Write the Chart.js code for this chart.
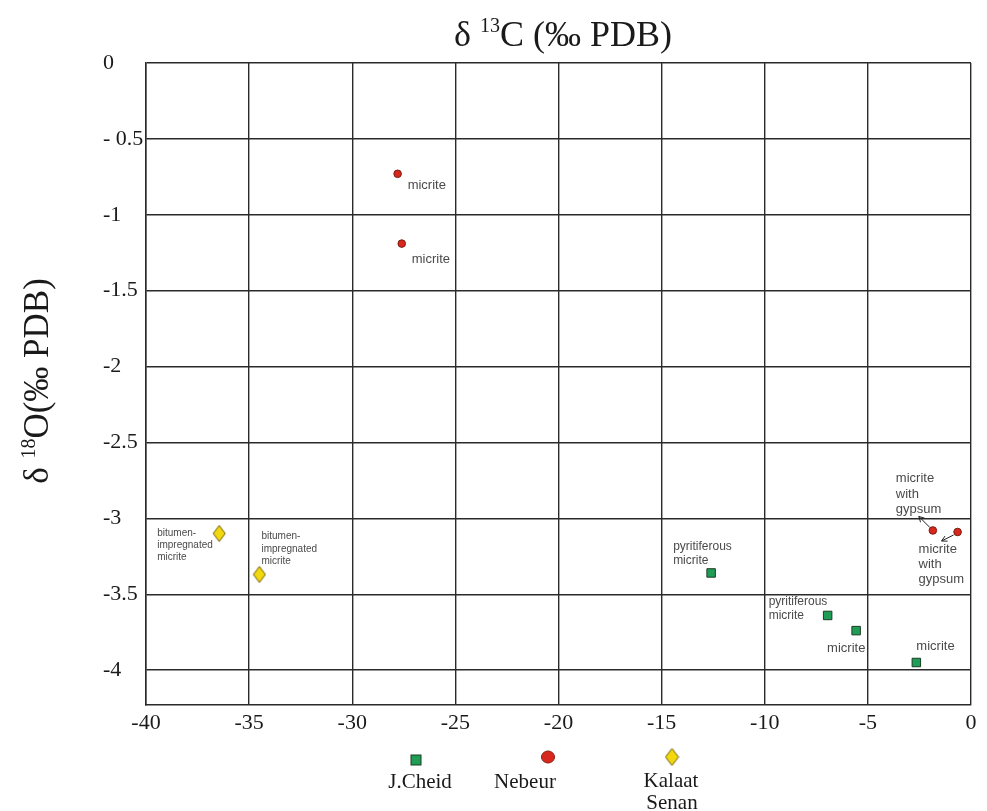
<!DOCTYPE html>
<html><head><meta charset="utf-8">
<script src="https://cdn.jsdelivr.net/npm/chart.js@4.4.1/dist/chart.umd.min.js"></script>
<style>html,body{margin:0;padding:0;background:#fff}</style>
</head><body>
<canvas id="c" width="987" height="811" style="width:987px;height:811px;display:block"></canvas>
<script>
// ---- data ----
const xTicks = [-40, -35, -30, -25, -20, -15, -10, -5, 0];
const xTickLabels = ['-40', '-35', '-30', '-25', '-20', '-15', '-10', '-5', '0'];
const yTicks = [0, -0.5, -1, -1.5, -2, -2.5, -3, -3.5, -4];
const yTickLabels = ['0', '- 0.5', '-1', '-1.5', '-2', '-2.5', '-3', '-3.5', '-4'];
const seriesNames = ['J.Cheid', 'Nebeur', 'Kalaat Senan'];

const jcheidX = [-12.6, -6.95, -5.57, -2.65];
const jcheidY = [-3.36, -3.64, -3.74, -3.95];
const jcheidNotes = ['pyritiferous\nmicrite', 'pyritiferous\nmicrite', 'micrite', 'micrite'];

const nebeurX = [-27.8, -27.6, -1.85, -0.65];
const nebeurY = [-0.73, -1.19, -3.08, -3.09];
const nebeurNotes = ['micrite', 'micrite', 'micrite\nwith\ngypsum', 'micrite\nwith\ngypsum'];

const kalaatX = [-36.45, -34.5];
const kalaatY = [-3.1, -3.37];
const kalaatNotes = ['bitumen-\nimpregnated\nmicrite', 'bitumen-\nimpregnated\nmicrite'];

const xTitle = ['δ ', '13', 'C (‰ PDB)'];
const yTitle = ['δ ', '18', 'O(‰ PDB)'];

// ---- styles ----
const COL_G = '#1f9d55', COL_R = '#d8281d', COL_Y = '#f2d90f';
const SERIF = '"Liberation Serif", "Times New Roman", serif';
const SANS = '"Liberation Sans", Arial, sans-serif';
const GRID = '#2a2a2a';

function diamondCanvas(w, h) {
  const cv = document.createElement('canvas');
  cv.width = w + 2; cv.height = h + 2;
  const g = cv.getContext('2d');
  g.beginPath();
  g.moveTo(cv.width / 2, 1); g.lineTo(cv.width - 1, cv.height / 2);
  g.lineTo(cv.width / 2, cv.height - 1); g.lineTo(1, cv.height / 2); g.closePath();
  g.fillStyle = COL_Y; g.fill();
  g.strokeStyle = '#6b5a00'; g.lineWidth = 1; g.stroke();
  return cv;
}
const diamond = diamondCanvas(12, 16);

const pts = (xs, ys) => xs.map((x, i) => ({ x: x, y: ys[i] }));

// annotation layout (pixel offsets from each marker)
const noteStyle = [
  [ {dx:-38, dy:-26, lh:14, fs:12}, {dx:-59, dy:-14, lh:14, fs:12}, {dx:-29, dy:18, lh:14, fs:13}, {dx:0, dy:-16, lh:14, fs:13} ],
  [ {dx:10, dy:12, lh:15, fs:13}, {dx:10, dy:16, lh:15, fs:13},
    {dx:-37, dy:-52, lh:15.5, fs:13, arrow:[-3,-3,-14,-14]},
    {dx:-39, dy:17, lh:15, fs:13, arrow:[-4,3,-16,9]} ],
  [ {dx:-62, dy:0, lh:12, fs:10}, {dx:2, dy:-38, lh:12.5, fs:10} ]
];
const notes = [jcheidNotes, nebeurNotes, kalaatNotes];

function drawSup(ctx, parts, big, small, rise) {
  ctx.font = big + 'px ' + SERIF;
  const w0 = ctx.measureText(parts[0]).width;
  const w2 = ctx.measureText(parts[2]).width;
  ctx.font = small + 'px ' + SERIF;
  const w1 = ctx.measureText(parts[1]).width;
  const total = w0 + w1 + w2;
  let x = -total / 2;
  ctx.textAlign = 'left'; ctx.textBaseline = 'alphabetic';
  ctx.font = big + 'px ' + SERIF; ctx.fillText(parts[0], x, 0); x += w0;
  ctx.font = small + 'px ' + SERIF; ctx.fillText(parts[1], x, -rise); x += w1;
  ctx.font = big + 'px ' + SERIF; ctx.fillText(parts[2], x, 0);
}

const decor = {
  id: 'decor',
  afterDatasetsDraw(chart) {
    const ctx = chart.ctx;
    ctx.save();
    // annotations
    chart.data.datasets.forEach((ds, di) => {
      const meta = chart.getDatasetMeta(di);
      meta.data.forEach((el, i) => {
        const st = noteStyle[di][i];
        const lines = notes[di][i].split('\n');
        ctx.fillStyle = '#4a4a4a';
        ctx.font = st.fs + 'px ' + SANS;
        ctx.textAlign = 'left'; ctx.textBaseline = 'middle';
        lines.forEach((t, k) => ctx.fillText(t, el.x + st.dx, el.y + st.dy + k * st.lh));
        if (st.arrow) {
          const [x1, y1, x2, y2] = st.arrow;
          const ax = el.x + x1, ay = el.y + y1, bx = el.x + x2, by = el.y + y2;
          ctx.strokeStyle = '#222'; ctx.lineWidth = 1;
          ctx.beginPath(); ctx.moveTo(ax, ay); ctx.lineTo(bx, by); ctx.stroke();
          const ang = Math.atan2(by - ay, bx - ax);
          ctx.beginPath();
          ctx.moveTo(bx - 6 * Math.cos(ang - 0.5), by - 6 * Math.sin(ang - 0.5));
          ctx.lineTo(bx, by);
          ctx.lineTo(bx - 6 * Math.cos(ang + 0.5), by - 6 * Math.sin(ang + 0.5));
          ctx.stroke();
        }
      });
    });
    // titles
    ctx.fillStyle = '#1a1a1a';
    ctx.save(); ctx.translate(563, 46); drawSup(ctx, xTitle, 36, 20, 14); ctx.restore();
    ctx.save(); ctx.translate(48, 381); ctx.rotate(-Math.PI / 2); drawSup(ctx, yTitle, 35, 20, 13); ctx.restore();
    // legend
    ctx.fillStyle = COL_G; ctx.strokeStyle = '#1a3d26'; ctx.lineWidth = 1;
    ctx.fillRect(411, 755, 10, 10); ctx.strokeRect(411, 755, 10, 10);
    ctx.beginPath(); ctx.ellipse(548, 757, 6.5, 6, 0, 0, Math.PI * 2);
    ctx.fillStyle = COL_R; ctx.fill(); ctx.strokeStyle = '#8a1a10'; ctx.stroke();
    const dl = diamondCanvas(13, 17);
    ctx.drawImage(dl, 672 - dl.width / 2, 757 - dl.height / 2);
    ctx.fillStyle = '#1a1a1a';
    ctx.font = '21px ' + SERIF; ctx.textAlign = 'center'; ctx.textBaseline = 'middle';
    ctx.fillText(seriesNames[0], 420, 782);
    ctx.fillText(seriesNames[1], 525, 782);
    const kl = seriesNames[2].split(' ');
    ctx.fillText(kl[0], 671, 781);
    ctx.fillText(kl[1], 672, 803);
    ctx.restore();
  }
};

new Chart(document.getElementById('c'), {
  type: 'scatter',
  data: {
    datasets: [
      { label: seriesNames[0], data: pts(jcheidX, jcheidY), pointStyle: 'rect', pointRadius: 6,
        backgroundColor: COL_G, borderColor: '#1a3d26', borderWidth: 1 },
      { label: seriesNames[1], data: pts(nebeurX, nebeurY), pointStyle: 'circle', pointRadius: 3.8,
        backgroundColor: COL_R, borderColor: '#7a1a10', borderWidth: 1 },
      { label: seriesNames[2], data: pts(kalaatX, kalaatY), pointStyle: diamond, pointRadius: 8,
        backgroundColor: COL_Y, borderColor: '#6b5a00', borderWidth: 1 }
    ]
  },
  options: {
    responsive: false,
    animation: false,
    devicePixelRatio: 1,
    layout: { padding: { left: 103, top: 63, right: 16, bottom: 0 } },
    plugins: { legend: { display: false }, tooltip: { enabled: false }, title: { display: false } },
    scales: {
      x: {
        type: 'linear', min: -40, max: 0,
        afterBuildTicks: s => { s.ticks = xTicks.map(v => ({ value: v })); },
        afterFit: s => { s.height = 106; },
        grid: { color: GRID, lineWidth: 1.4, drawTicks: false },
        border: { display: true, color: GRID, width: 1.5 },
        ticks: {
          color: '#1a1a1a', padding: 5, maxRotation: 0, autoSkip: false,
          font: { family: SERIF, size: 22 },
          callback: v => { const i = xTicks.indexOf(v); return i >= 0 ? xTickLabels[i] : ''; }
        }
      },
      y: {
        type: 'linear', min: -4.23, max: 0,
        afterBuildTicks: s => { s.ticks = yTicks.map(v => ({ value: v })); },
        afterFit: s => { s.width = 43; },
        grid: { color: GRID, lineWidth: 1.4, drawTicks: false },
        border: { display: true, color: GRID, width: 1.5 },
        ticks: {
          color: '#1a1a1a', padding: 0, crossAlign: 'far', autoSkip: false,
          font: { family: SERIF, size: 22 },
          callback: v => { const i = yTicks.indexOf(v); return i >= 0 ? yTickLabels[i] : ''; }
        }
      }
    }
  },
  plugins: [decor]
});
</script>
</body></html>
